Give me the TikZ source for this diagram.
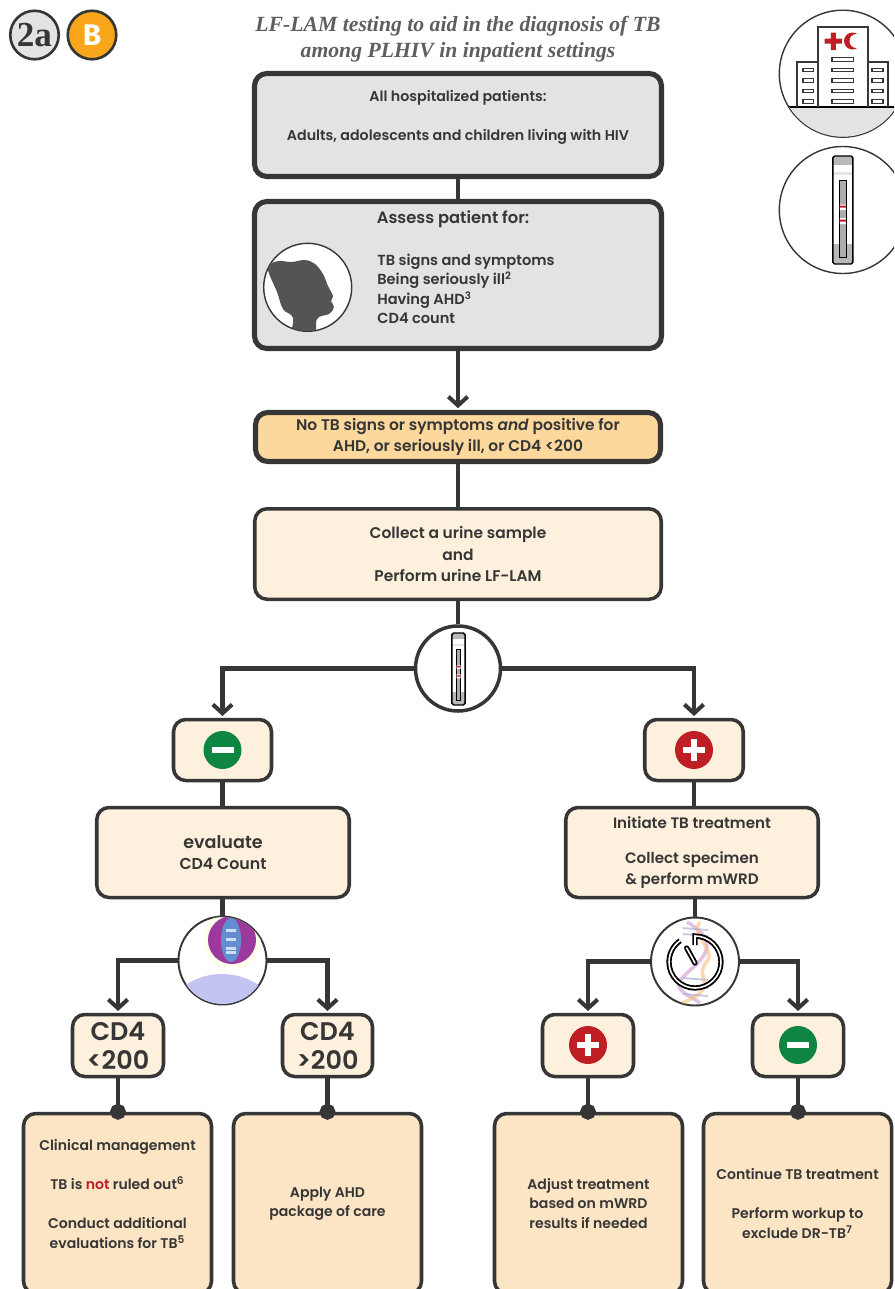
\documentclass[tikz,border=0pt]{standalone}
\usepackage{fontspec}
\usetikzlibrary{arrows.meta}
\setmainfont{Poppins}[BoldFont={Poppins SemiBold}]
\newfontfamily\titlefont{Liberation Serif}
\newfontfamily\badgefont{Fira Sans}
\newfontfamily\lightfont{Poppins Light}
\definecolor{ink}{HTML}{363636}
\definecolor{graybox}{HTML}{E3E3E3}
\definecolor{orangebox}{HTML}{FCD89D}
\definecolor{creambox}{HTML}{FDF1DE}
\definecolor{peachbox}{HTML}{FCE5C4}
\definecolor{posred}{HTML}{BE1E24}
\definecolor{neggreen}{HTML}{0F8542}
\definecolor{badgeamber}{HTML}{FAA61A}
\tikzset{
  boxsize/.style 2 args={minimum width=#1*0.02cm,minimum height=#2*0.02cm},
  txt/.style 2 args={font=\fontsize{#1}{#2}\selectfont\bfseries},
  heavybox/.style={draw=ink,line width=2.9pt,rounded corners=7pt,align=center,text=ink,inner sep=0pt},
  softbox/.style={draw=ink,line width=2pt,rounded corners=7pt,align=center,text=ink,inner sep=0pt},
  roundicon/.style={circle,draw=ink,fill=white,inner sep=0pt,minimum size=#1*0.02cm},
  flowline/.style={draw=ink,line width=2.7pt},
  flowarrow/.style={flowline,-{Straight Barb[length=5pt,width=11pt,line width=2.3pt]},shorten >=1pt},
  dotline/.style={flowline,-{Circle[length=9pt]}},
  pics/cassette/.style={code={
    \fill[rounded corners=1pt,white] (-10,-54) rectangle (10,54);
    \fill[gray!55] (-10,-54) rectangle (10,-45);
    \fill[gray!20] (-10,-38) rectangle (10,-35);
    \fill[gray!55] (-10,34) rectangle (10,54);
    \draw[black,line width=.8pt,rounded corners=1pt] (-10,-54) rectangle (10,54);
    \draw[black,line width=.4pt,fill=gray!65] (-3.5,-30) rectangle (3.5,47);
    \fill[white] (-3,-5.5) rectangle (3,0) (-3,8) rectangle (3,14);
    \fill[posred] (-3,-4.5) rectangle (3,-2.5) (-3,9.5) rectangle (3,11.5);
  }}
}
\begin{document}
\begin{tikzpicture}[x=0.02cm,y=-0.02cm]
  \useasboundingbox (0,0) rectangle (894,1289);
  \clip (0,0) rectangle (894,1289);
  \node[circle,draw=ink,line width=1.5pt,fill=graybox,minimum size=48.5*0.02cm,inner sep=0pt,text=ink] (level) at (34.5,35)
    {\titlefont\fontsize{20}{20}\selectfont\bfseries 2a};
  \node[circle,draw=ink,line width=1.5pt,fill=badgeamber,minimum size=48.5*0.02cm,inner sep=0pt,text=white] (grade) at (92,35)
    {\badgefont\fontsize{17}{17}\selectfont\bfseries B};
  \node[align=center,text=ink!80,inner sep=0pt,font=\titlefont\fontsize{12.35}{15}\selectfont\bfseries\itshape] (title) at (458,39)
    {LF-LAM testing to aid in the diagnosis of TB\\among PLHIV in inpatient settings};

  \node[heavybox,fill=graybox,boxsize={407}{103},txt={8.1}{11.1}] (allpat) at (458,125)
    {All hospitalized patients:\\ \\Adults, adolescents and children living with HIV\\ \mbox{}};
  \node[heavybox,fill=graybox,boxsize={407}{147}] (assess) at (458,275) {};
  \node[text=ink,inner sep=0pt,txt={9.3}{11}] (assesshead) at (453,219) {Assess patient for:};
  \node[align=left,anchor=west,text=ink,inner sep=0pt,txt={8.3}{11.1}] (assesslist) at (377,289)
    {TB signs and symptoms\\Being seriously ill\textsuperscript{2}\\Having AHD\textsuperscript{3}\\CD4 count};
  \node[heavybox,fill=orangebox,boxsize={405}{49},txt={8.8}{12}] (criteria) at (458,437)
    {No TB signs or symptoms \textit{and} positive for\\AHD, or seriously ill, or CD4 <200};
  \node[softbox,fill=creambox,boxsize={406.5}{90.5},txt={8.8}{12.4}] (urine) at (458,554)
    {Collect a urine sample\\and\\Perform urine LF-LAM};

  \node[roundicon=85,line width=2pt] (testdot) at (458,668.5) {};
  \node[softbox,fill=creambox,boxsize={98}{61}] (lamneg) at (222.5,750) {};
  \node[softbox,fill=creambox,boxsize={98.5}{61}] (lampos) at (694,750) {};
  \node[softbox,fill=creambox,boxsize={252.5}{90},txt={9}{12}] (cdfour) at (223,852.5)
    {{\lightfont\fontsize{10}{12}\selectfont evaluate}\\CD4 Count};
  \node[softbox,fill=creambox,boxsize={252.5}{90},txt={8.6}{12}] (treat) at (692,852.5)
    {Initiate TB treatment\\[7.5pt]Collect specimen\\\& perform mWRD};

  \node[roundicon=88,line width=1.1pt] (cdicon) at (222.5,960.5) {};
  \node[roundicon=88,line width=1.1pt] (wrdicon) at (695,961.5) {};

  \node[softbox,fill=creambox,boxsize={91}{62},txt={14.5}{16.5}] (cdlow) at (118,1045.5)
    {CD4\\<200};
  \node[softbox,fill=creambox,boxsize={90}{62},txt={14.5}{16.5}] (cdhigh) at (327.5,1045.5)
    {CD4\\>200};
  \node[softbox,fill=creambox,boxsize={91}{62}] (wrdpos) at (588,1045.5) {};
  \node[softbox,fill=creambox,boxsize={91}{62}] (wrdneg) at (798,1045.5) {};

  \node[softbox,fill=peachbox,boxsize={188}{180},txt={8}{11.1}] (clinical) at (117.5,1203.5)
    {Clinical management\\ \\TB is \textcolor{posred}{not} ruled out\textsuperscript{6}\\ \\Conduct additional\\evaluations for TB\textsuperscript{5}\\ \mbox{}};
  \node[softbox,fill=peachbox,boxsize={188}{180},txt={8}{11.1}] (package) at (327.5,1203.5)
    {Apply AHD\\package of care};
  \node[softbox,fill=peachbox,boxsize={188}{180},txt={8}{11.1}] (adjust) at (588.5,1203.5)
    {Adjust treatment\\based on mWRD\\results if needed};
  \node[softbox,fill=peachbox,boxsize={188}{180},txt={8}{11.1}] (continue) at (797.5,1203.5)
    {Continue TB treatment\\ \\Perform workup to\\exclude DR-TB\textsuperscript{7}};

  \draw[flowline] (allpat) -- (assess);
  \draw[flowarrow] (assess) -- (criteria);
  \draw[flowline] (criteria) -- (urine);
  \draw[flowline] (urine) -- (testdot);
  \draw[flowarrow] (testdot.west) -| (lamneg.north);
  \draw[flowarrow] (testdot.east) -| (lampos.north);
  \draw[flowline] (lamneg) -- (cdfour.north -| lamneg);
  \draw[flowline] (lampos) -- (treat.north -| lampos);
  \draw[flowline] (cdfour.south -| cdicon) -- (cdicon);
  \draw[flowline] (treat.south -| wrdicon) -- (wrdicon);
  \draw[flowarrow] (cdicon.west) -| (cdlow.north);
  \draw[flowarrow] (cdicon.east) -| (cdhigh.north);
  \draw[flowarrow] (wrdicon.west) -| (wrdpos.north);
  \draw[flowarrow] (wrdicon.east) -| (wrdneg.north);
  \foreach \from/\to in {cdlow/clinical,cdhigh/package,wrdpos/adjust,wrdneg/continue}
    \draw[dotline,shorten >=-4.5pt] (\from) -- (\from |- \to.north);

  \foreach \at in {{(222.5,750)},{(798,1045)}} {
    \fill[neggreen] \at circle (19);
    \fill[white] \at ++(-11,-3) rectangle ++(22,6);
  }
  \foreach \at in {{(694,750)},{(588,1045)}} {
    \fill[posred] \at circle (19);
    \fill[white] \at ++(-11,-3) rectangle ++(22,6);
    \fill[white] \at ++(-3,-11) rectangle ++(6,22);
  }

  \node[roundicon=127,line width=.8pt] (hospdot) at (842.8,73.7) {};
  \begin{scope}
    \clip (842.8,73.7) circle (63);
    \fill[graybox] (770,107) rectangle (910,140);
    \draw[black,line width=1.2pt] (770,107) -- (910,107);
  \end{scope}
  \draw[ink,line width=1.1pt] (797,107) |- (818,62) (887.7,107) |- (867.7,62);
  \draw[ink,line width=1.2pt] (818,107) |- (867.7,27.3) -- (867.7,107);
  \foreach \y in {59.5,70,80.5,91,101.5}
    \draw[ink,line width=.6pt] (832,\y-1.7) rectangle (853.7,\y+1.7);
  \foreach \y in {70,80.5,91,101.5} {
    \draw[ink,line width=.6pt] (803,\y-1.7) rectangle (813.7,\y+1.7);
    \draw[ink,line width=.6pt] (872,\y-1.7) rectangle (883,\y+1.7);
  }
  \fill[posred] (824.7,38.5) rectangle (842,43.5) (830.8,32.5) rectangle (835.8,50);
  \fill[posred] (852.5,41) circle (8.5);
  \fill[white] (856.5,41) circle (7);

  \node[roundicon=127,line width=.8pt] (stripdot) at (842.8,210) {};
  \pic at (842.8,210) {cassette};
  \pic[scale=.667] at (458.5,669) {cassette};

  \node[roundicon=88,line width=.8pt] (headdot) at (307.7,287.3) {};
  \begin{scope}
    \clip (307.7,287.3) circle (43.8);
    \fill[ink!85] plot[smooth cycle,tension=.6] coordinates {(268,270) (272,263) (280,261) (292,262) (305,260) (315,264) (323,274) (328,286)
      (333,296) (331,301) (334,307) (329,314) (317,319) (314,340) (292,340) (293,318) (283,309) (277,292)};
  \end{scope}

  \begin{scope}
    \clip (222.5,960.5) circle (43.5);
    \fill[blue!20!white!90!gray] (222,1040) circle (66);
    \fill[yellow!10,opacity=.7] (232,940) circle (29);
    \fill[violet!60!magenta!55!gray] (232,940) circle (24);
    \fill[cyan!45!blue!65!white] (231,940) ellipse (10 and 22);
    \foreach \y in {929,938,947,951}
      \fill[white,opacity=.7] (226,\y) rectangle (236,\y+2.5);
    \foreach \xa/\ya/\xb/\yb in {205,975,208,968,224,967,224,974,241,967,240,974,257,977,260,971,203,945,197,946}
      \draw[yellow!60!gray!50,line width=1.2pt] (\xa,\ya) -- (\xb,\yb);
  \end{scope}

  \begin{scope}
    \clip (695,961.5) circle (43.5);
    \draw[violet!40,line width=2pt,opacity=.6] (687,922) .. controls (725,945) and (700,960) .. (683,977) .. controls (670,990) and (690,995) .. (700,1003);
    \draw[orange!50,line width=2pt,opacity=.6] (700,922) .. controls (690,935) and (715,950) .. (708,960) .. controls (690,980) and (725,985) .. (682,1003);
    \foreach \y in {928,934,978,986,994}
      \draw[blue!30!gray!50,line width=1pt,opacity=.7] (683,\y) -- (708,\y+2);
  \end{scope}
  \draw[black,line width=3pt] (695,945) -- (695,936) arc[start angle=-90,end angle=235,radius=26];
  \draw[white,line width=.9pt] (695,945) -- (695,936) arc[start angle=-90,end angle=235,radius=26];
  \draw[black,line width=3pt,line cap=round] (686.7,948) -- (695,963);
  \draw[white,line width=.9pt,line cap=round] (686.7,948) -- (695,963);
\end{tikzpicture}
\end{document}
